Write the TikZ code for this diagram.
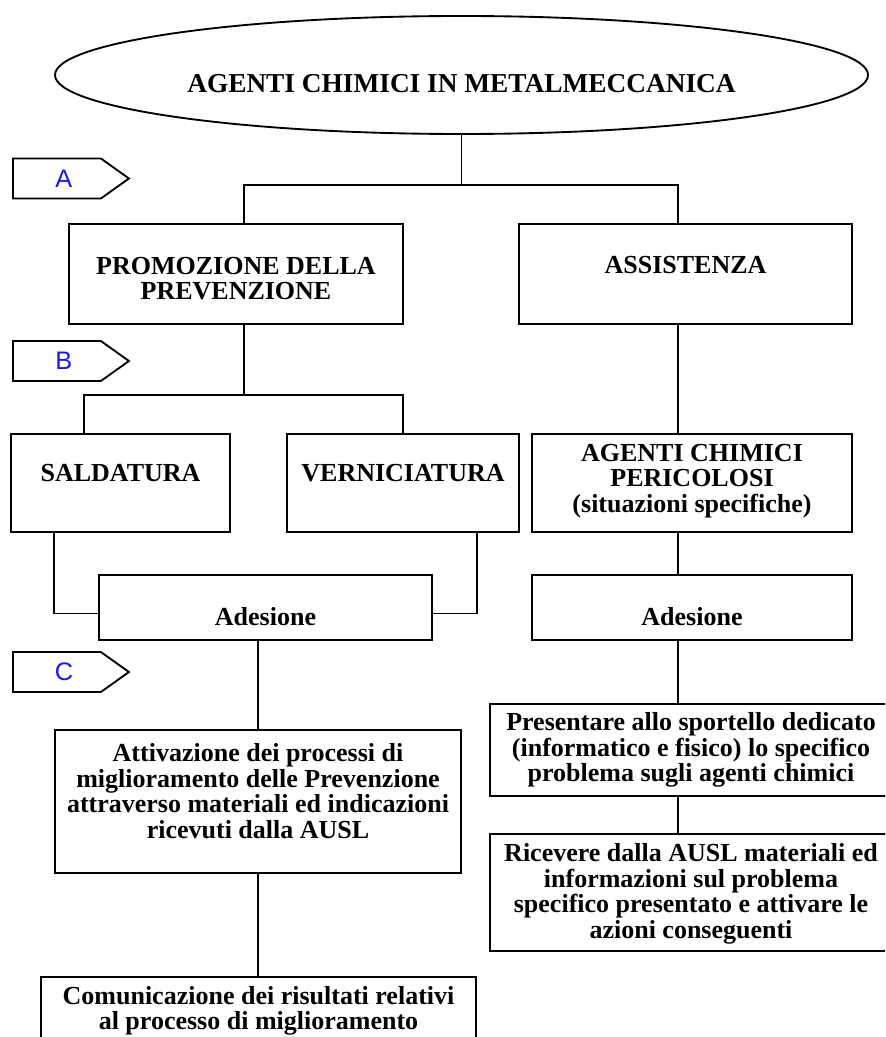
\documentclass[tikz,border=0pt]{standalone}
\usepackage{fontspec}
\setmainfont{Liberation Serif}
\newfontfamily\tagfont{Liberation Sans}
\usetikzlibrary{shapes.geometric,shapes.symbols,fit,calc}
\definecolor{tagblue}{RGB}{25,25,235}

\begin{document}
\begin{tikzpicture}[x=0.75pt,y=0.75pt,yscale=-1,xscale=1,
  box/.style={draw, rectangle, inner sep=0pt, line width=1.4pt},
  txt/.style={align=center, inner sep=0.75pt, font=\fontsize{19.5}{19.2}\selectfont\bfseries},
  tag/.style={draw, signal, signal to=east, signal pointer angle=71, minimum width=87pt, minimum height=30pt, inner sep=0pt, line width=1.4pt, anchor=west, text=tagblue, font=\tagfont\fontsize{19}{19}\selectfont},
  link/.style={line width=1.4pt}]
\useasboundingbox (0,0) rectangle (885,1037);
\clip (0,0) rectangle (885,1037);

%Shape: Ellipse [id:title]
\node[ellipse, draw, inner sep=0pt, line width=1.4pt, minimum width=609.75pt, minimum height=88.5pt,
  label={[txt, font=\fontsize{20.5}{20.5}\selectfont\bfseries, yshift=-6.75pt]center:AGENTI CHIMICI IN METALMECCANICA}] (title) at (461.5,75) {};

%Shape: Signal [id:tags]
\node[tag] (tagA) at (12,178.5) {\hspace*{10.5pt}A};
\node[tag] (tagB) at (12,361) {\hspace*{10.5pt}B};
\node[tag] (tagC) at (12,672) {\hspace*{10.5pt}C};

%Shape: Rectangle [id:level A]
\node[box, fit={(69,224) (403,324)}, label={[txt, yshift=-3.4pt]center:{PROMOZIONE DELLA\\PREVENZIONE}}] (promo) {};
\node[box, fit={(519,224) (852,324)}, label={[txt, yshift=6.75pt]center:ASSISTENZA}] (assist) {};

%Shape: Rectangle [id:level B]
\node[box, fit={(11,434) (230,532)}, label={[txt, yshift=7.5pt]center:SALDATURA}] (sald) {};
\node[box, fit={(287,434) (519,532)}, label={[txt, yshift=7.5pt]center:VERNICIATURA}] (vern) {};
\node[box, fit={(532,434) (852,532)}, label={[txt, yshift=1.5pt]center:{AGENTI CHIMICI\\PERICOLOSI\\(situazioni specifiche)}}] (agenti) {};

\node[box, fit={(99,575) (432,640)}, label={[txt, yshift=-7pt]center:Adesione}] (adesL) {};
\node[box, fit={(532,575) (852,640)}, label={[txt, yshift=-7pt]center:Adesione}] (adesR) {};

%Shape: Rectangle [id:level C]
\node[box, fit={(55,730) (461,873)}, label={[txt, yshift=7.9pt]center:{Attivazione dei processi di\\miglioramento delle Prevenzione\\attraverso materiali ed indicazioni\\ricevuti dalla AUSL}}] (attiv) {};
\node[box, fit={(41,977) (476,1045)}, label={[txt]center:{Comunicazione dei risultati relativi\\al processo di miglioramento}}] (comun) {};
\node[box, fit={(490,704) (892,796)}, label={[txt]center:{Presentare allo sportello dedicato\\(informatico e fisico) lo specifico\\problema sugli agenti chimici}}] (pres) {};
\node[box, fit={(490,834) (892,951)}, label={[txt, yshift=-1pt]center:{Ricevere dalla AUSL materiali ed\\informazioni sul problema\\specifico presentato e attivare le\\azioni conseguenti}}] (ricev) {};

% Branch points
\coordinate (split) at (461.5,185);
\coordinate (fork) at (244,395);
\coordinate (rcol) at (678,0);

%Straight Lines [id:tree]
\draw[link] (title.south) -- (split);
\draw[link] (promo.north -| fork) |- (split) -| (assist.north -| rcol);
\draw[link] (promo.south -| fork) -- (fork);
\draw[link] ($(sald.north west)!0.333!(sald.north east)$) |- (fork) -| (vern.north);
\draw[link] ($(sald.south west)!0.2!(sald.south east)$) |- ([yshift=4.5pt]adesL.west);
\draw[link] ($(vern.south west)!0.815!(vern.south east)$) |- ([yshift=4.5pt]adesL.east);
\draw[link] (adesL.south -| attiv.north) -- (attiv.north);
\draw[link] (attiv.south) -- (attiv.south |- comun.north);
\draw[link] (assist.south -| rcol) -- (agenti.north -| rcol);
\draw[link] (agenti.south -| rcol) -- (adesR.north -| rcol);
\draw[link] (adesR.south -| rcol) -- (pres.north -| rcol);
\draw[link] (pres.south -| rcol) -- (ricev.north -| rcol);

\end{tikzpicture}
\end{document}
